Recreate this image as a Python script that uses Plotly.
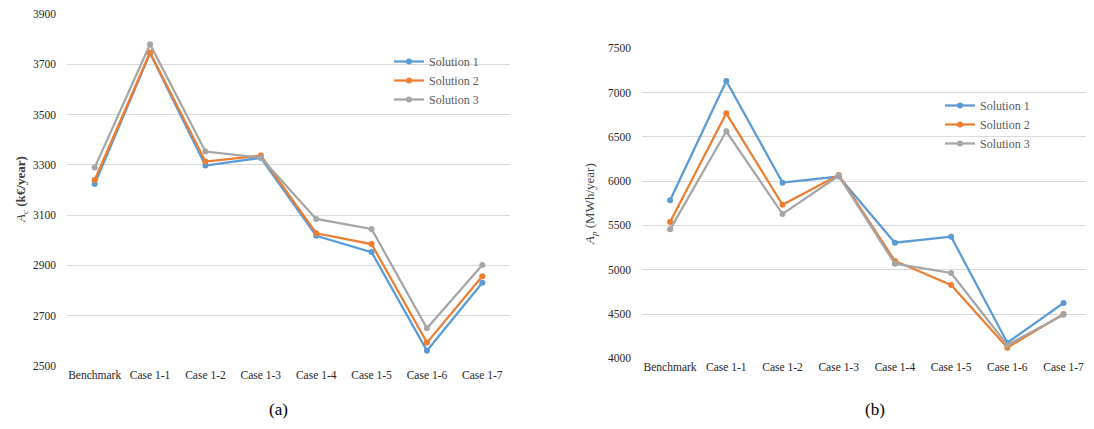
import plotly.graph_objects as go

categories = ["Benchmark", "Case 1-1", "Case 1-2", "Case 1-3", "Case 1-4", "Case 1-5", "Case 1-6", "Case 1-7"]
series_names = ["Solution 1", "Solution 2", "Solution 3"]

# (a) A_c (k€/year)
ac_sol1 = [3224, 3744, 3297, 3328, 3018, 2953, 2561, 2831]
ac_sol2 = [3240, 3747, 3313, 3337, 3028, 2985, 2593, 2857]
ac_sol3 = [3289, 3780, 3353, 3329, 3085, 3045, 2650, 2902]

# (b) A_p (MWh/year)
ap_sol1 = [5784, 7131, 5983, 6052, 5305, 5373, 4176, 4624]
ap_sol2 = [5539, 6766, 5734, 6070, 5099, 4828, 4120, 4500]
ap_sol3 = [5456, 6563, 5629, 6060, 5068, 4963, 4150, 4492]

ac_ticks = [2500, 2700, 2900, 3100, 3300, 3500, 3700, 3900]
ap_ticks = [4000, 4500, 5000, 5500, 6000, 6500, 7000, 7500]

colors = ["#5B9BD5", "#ED7D31", "#A5A5A5"]
FONT = "Liberation Serif"

OFF = 8  # page body margin offset
W, H = 1094 - 2 * OFF, 429 - 2 * OFF

fig = go.Figure()

for name, vals, c in zip(series_names, [ac_sol1, ac_sol2, ac_sol3], colors):
    fig.add_trace(go.Scatter(x=categories, y=vals, name=name, mode="lines+markers",
                             line=dict(color=c, width=2.25), marker=dict(color=c, size=6),
                             xaxis="x", yaxis="y", legend="legend"))

for name, vals, c in zip(series_names, [ap_sol1, ap_sol2, ap_sol3], colors):
    fig.add_trace(go.Scatter(x=categories, y=vals, name=name, mode="lines+markers",
                             line=dict(color=c, width=2.25), marker=dict(color=c, size=6),
                             xaxis="x2", yaxis="y2", legend="legend2"))

def px_x(p):
    return min(1.0, (p - OFF) / W)

def px_y(p):
    return 1 - (p - OFF) / H

tickfont = dict(family=FONT, size=11.5, color="#262626")
catfont = dict(family=FONT, size=11.5, color="#262626")

common_x = dict(type="category", showgrid=False, showline=False, ticks="",
                tickfont=catfont, zeroline=False, automargin=False)
common_y = dict(showgrid=True, gridcolor="#D9D9D9", gridwidth=1, zeroline=False,
                showline=False, ticks="", tickfont=tickfont, ticklabelstandoff=10,
                automargin=False)

fig.update_layout(
    template="none",
    width=W, height=H,
    margin=dict(l=0, r=0, t=0, b=0, autoexpand=False),
    paper_bgcolor="white", plot_bgcolor="white",
    font=dict(family=FONT, color="#262626"),
    xaxis=dict(domain=[px_x(67), px_x(510)], anchor="y", range=[-0.5, 7.5], **common_x),
    yaxis=dict(domain=[px_y(366), px_y(14)], anchor="x", range=[2500, 3900],
               tickvals=ac_ticks, **common_y),
    xaxis2=dict(domain=[px_x(642), px_x(1086)], anchor="y2", range=[-0.5, 7.4], **common_x),
    yaxis2=dict(domain=[px_y(358.3), px_y(48.3)], anchor="x2", range=[4000, 7500],
                tickvals=ap_ticks, **common_y),
    legend=dict(x=px_x(389), y=px_y(47), xanchor="left", yanchor="top",
                font=dict(family=FONT, size=12, color="#595959"), bgcolor="rgba(0,0,0,0)",
                tracegroupgap=0, itemwidth=30),
    legend2=dict(x=px_x(940), y=px_y(91), xanchor="left", yanchor="top",
                 font=dict(family=FONT, size=12, color="#595959"), bgcolor="rgba(0,0,0,0)",
                 tracegroupgap=0, itemwidth=30),
    annotations=[
        dict(text="<i>A</i><sub><i>c</i></sub> <b>(k€/year)</b>", x=px_x(22), y=px_y(190),
             xref="paper", yref="paper", showarrow=False, textangle=-90,
             font=dict(family=FONT, size=13, color="#404040"), xanchor="center", yanchor="middle"),
        dict(text="<i>A</i><sub><i>p</i></sub> (MWh/year)", x=px_x(590), y=px_y(204),
             xref="paper", yref="paper", showarrow=False, textangle=-90,
             font=dict(family=FONT, size=13, color="#404040"), xanchor="center", yanchor="middle"),
        dict(text="(a)", x=px_x(278), y=0, xref="paper", yref="paper", showarrow=False,
             font=dict(family=FONT, size=17, color="#000000"), xanchor="center", yanchor="bottom"),
        dict(text="(b)", x=px_x(875), y=0, xref="paper", yref="paper", showarrow=False,
             font=dict(family=FONT, size=17, color="#000000"), xanchor="center", yanchor="bottom"),
    ],
)

fig.write_html("out.html")
